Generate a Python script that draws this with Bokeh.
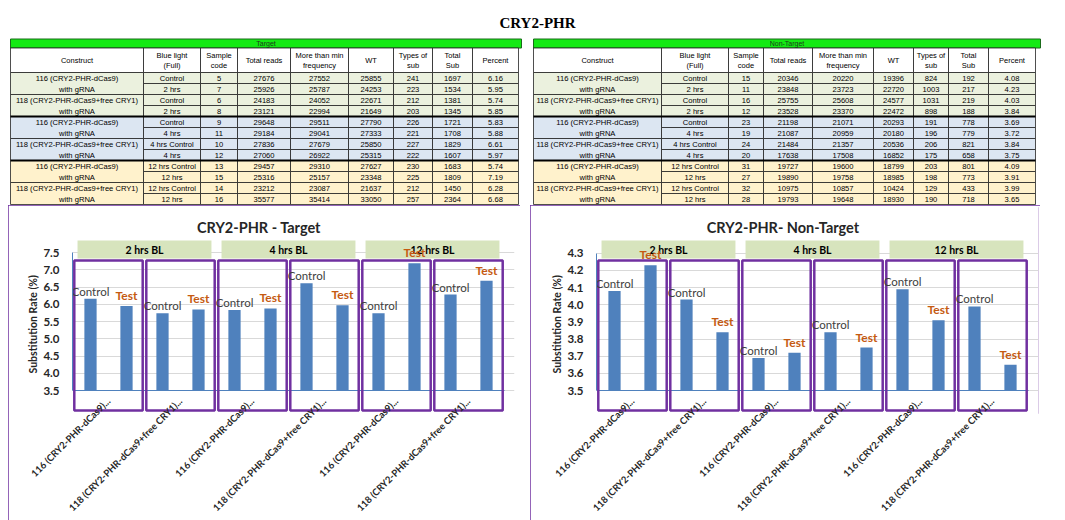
from bokeh.plotting import figure
from bokeh.models import Range1d, FixedTicker, Label, Spacer, PrintfTickFormatter, Title
from bokeh.layouts import column, row
from bokeh.embed import file_html
from bokeh.resources import INLINE
from bokeh.core.properties import value

# ---------------- data ----------------
page_title = "CRY2-PHR"
table_titles = ["Target", "Non-Target"]
header_line1 = ["Construct", "Blue light", "Sample", "Total reads", "More than min", "WT", "Types of", "Total", "Percent"]
header_line2 = ["", "(Full)", "code", "", "frequency", "", "sub", "Sub", ""]
construct_names = ["116 (CRY2-PHR-dCas9)", "118 (CRY2-PHR-dCas9+free CRY1)"] * 3
construct_suffix = "with gRNA"
blue_light = ["Control", "2 hrs", "Control", "2 hrs", "Control", "4 hrs",
              "4 hrs Control", "4 hrs", "12 hrs Control", "12 hrs", "12 hrs Control", "12 hrs"]

t_code = [5, 7, 6, 8, 9, 11, 10, 12, 13, 15, 14, 16]
t_total_reads = [27676, 25926, 24183, 23121, 29648, 29184, 27836, 27060, 29457, 25316, 23212, 35577]
t_more_min = [27552, 25787, 24052, 22994, 29511, 29041, 27679, 26922, 29310, 25157, 23087, 35414]
t_wt = [25855, 24253, 22671, 21649, 27790, 27333, 25850, 25315, 27627, 23348, 21637, 33050]
t_types = [241, 223, 212, 203, 226, 221, 227, 222, 230, 225, 212, 257]
t_total_sub = [1697, 1534, 1381, 1345, 1721, 1708, 1829, 1607, 1683, 1809, 1450, 2364]
t_percent = [6.16, 5.95, 5.74, 5.85, 5.83, 5.88, 6.61, 5.97, 5.74, 7.19, 6.28, 6.68]

n_code = [15, 11, 16, 12, 23, 19, 24, 20, 31, 27, 32, 28]
n_total_reads = [20346, 23848, 25755, 23528, 21198, 21087, 21484, 17638, 19727, 19890, 10975, 19793]
n_more_min = [20220, 23723, 25608, 23370, 21071, 20959, 21357, 17508, 19600, 19758, 10857, 19648]
n_wt = [19396, 22720, 24577, 22472, 20293, 20180, 20536, 16852, 18799, 18985, 10424, 18930]
n_types = [824, 1003, 1031, 898, 191, 196, 206, 175, 203, 198, 129, 190]
n_total_sub = [192, 217, 219, 188, 778, 779, 821, 658, 801, 773, 433, 718]
n_percent = [4.08, 4.23, 4.03, 3.84, 3.69, 3.72, 3.84, 3.75, 4.09, 3.91, 3.99, 3.65]

chart_titles = ["CRY2-PHR - Target", "CRY2-PHR- Non-Target"]
chart_categories = ["116 (CRY2-PHR-dCas9)...", "118 (CRY2-PHR-dCas9+free CRY1)..."] * 3
time_groups = ["2 hrs BL", "4 hrs BL", "12 hrs BL"]
bar_kinds = ["Control", "Test"]
y_axis_title = "Substitution Rate (%)"
target_yticks = [3.5, 4.0, 4.5, 5.0, 5.5, 6.0, 6.5, 7.0, 7.5]
nontarget_yticks = [3.5, 3.6, 3.7, 3.8, 3.9, 4.0, 4.1, 4.2, 4.3]

# ---------------- style ----------------
GREEN = "#14ea14"
ROW_FILLS = ["#ebf1de", "#dce6f2", "#fff2cc"]
BAR_BLUE = "#4f81bd"
PURPLE = "#7030a0"
BAND_FILL = "#d7e4bd"
TEST_COL = "#c55a11"
DARK = "#262626"
TFONT = value("Liberation Sans")
CFONT = value("Lato")

# table geometry (page pixels)
TOP_H = 205
T_BAND = (38.5, 47.5)
T_HEAD = (47.5, 72)
T_ROW0 = 72
T_ROWH = 11
tables_layout = [
    dict(edges=[10, 143, 200, 237, 290, 348, 393, 432, 472, 518], green_right=521),
    dict(edges=[533, 661, 728, 763, 812, 873, 913, 948, 988, 1035], green_right=1040),
]


def draw_table(p, geo, title, cols):
    e = geo["edges"]
    x0, x1 = e[0], e[-1]
    nrows = len(cols[0])
    p.quad(left=[x0], right=[geo["green_right"]], top=[T_BAND[0]], bottom=[T_BAND[1]],
           fill_color=GREEN, line_color="#1b6b1b", line_width=1)
    p.text(x=[(x0 + geo["green_right"]) / 2], y=[sum(T_BAND) / 2], text=[title],
           text_font=TFONT, text_font_size="7px", text_align="center",
           text_baseline="middle", text_color="#1d3b1d")
    p.quad(left=e[:-1], right=e[1:], top=[T_HEAD[0]] * 9, bottom=[T_HEAD[1]] * 9,
           fill_color="white", line_color="#222222", line_width=0.8)
    cx = [(e[c] + e[c + 1]) / 2 for c in range(9)]
    xs, ys, ts = [], [], []
    for c in range(9):
        if header_line2[c]:
            xs += [cx[c], cx[c]]
            ys += [T_HEAD[0] + 7, T_HEAD[0] + 17.5]
            ts += [header_line1[c], header_line2[c]]
        else:
            xs.append(cx[c]); ys.append(sum(T_HEAD) / 2); ts.append(header_line1[c])
    p.text(x=xs, y=ys, text=ts, text_font=TFONT, text_font_size="7.5px",
           text_align="center", text_baseline="middle", text_color="black")
    L, R, Tp, B, F = [], [], [], [], []
    for k in range(nrows // 2):
        L.append(e[0]); R.append(e[1])
        Tp.append(T_ROW0 + 2 * k * T_ROWH); B.append(T_ROW0 + (2 * k + 2) * T_ROWH)
        F.append(ROW_FILLS[(2 * k) // 4])
    for c in range(1, 9):
        for r in range(nrows):
            L.append(e[c]); R.append(e[c + 1])
            Tp.append(T_ROW0 + r * T_ROWH); B.append(T_ROW0 + (r + 1) * T_ROWH)
            F.append(ROW_FILLS[r // 4])
    p.quad(left=L, right=R, top=Tp, bottom=B, fill_color=F, line_color="#222222", line_width=0.8)
    gy = [T_ROW0 + 4 * g * T_ROWH for g in range(1, nrows // 4)]
    p.segment(x0=[x0] * len(gy), x1=[x1] * len(gy), y0=gy, y1=gy, line_color="black", line_width=2)
    xs, ys, ts = [], [], []
    for r in range(nrows):
        yc = T_ROW0 + (r + 0.5) * T_ROWH
        xs.append(cx[0]); ys.append(yc)
        ts.append(construct_names[r // 2] if r % 2 == 0 else construct_suffix)
        for c in range(1, 9):
            v = cols[c - 1][r]
            xs.append(cx[c]); ys.append(yc)
            ts.append(f"{v:.2f}" if isinstance(v, float) else str(v))
    p.text(x=xs, y=ys, text=ts, text_font=TFONT, text_font_size="7.6px",
           text_align="center", text_baseline="middle", text_color="black")


top = figure(width=1057, height=TOP_H, x_range=Range1d(0, 1057), y_range=Range1d(TOP_H, 0),
             x_axis_type=None, y_axis_type=None, output_backend="svg", toolbar_location=None,
             min_border=0)
top.outline_line_color = None
top.text(x=[537], y=[22], text=[page_title], text_font=value("Liberation Serif"),
         text_font_size="15px", text_font_style="bold", text_align="center",
         text_baseline="middle", text_color="black")
draw_table(top, tables_layout[0], table_titles[0],
           [blue_light, t_code, t_total_reads, t_more_min, t_wt, t_types, t_total_sub, t_percent])
draw_table(top, tables_layout[1], table_titles[1],
           [blue_light, n_code, n_total_reads, n_more_min, n_wt, n_types, n_total_sub, n_percent])

# chart geometry (figure-local pixels)
CH_H = 315
FRAME_TOP, FRAME_BOT = 2, 208
AXIS_PY = 185
FRAME_W = 442
CAT_PX = 72


def make_chart(title, controls, tests, yticks, ppu, left_border, right_border):
    base = yticks[0]

    def val(py):
        return base + (AXIS_PY - py) / ppu

    n = len(chart_categories)
    p = figure(width=left_border + FRAME_W + right_border, height=CH_H,
               x_range=Range1d(-0.5, -0.5 + FRAME_W / CAT_PX),
               y_range=Range1d(val(FRAME_BOT), val(FRAME_TOP)),
               output_backend="svg", toolbar_location=None,
               min_border_top=FRAME_TOP, min_border_bottom=CH_H - FRAME_BOT,
               min_border_left=left_border, min_border_right=right_border)
    p.outline_line_color = None
    p.styles = {"outline": f"2px solid {PURPLE}", "outline-offset": "-2px"}
    p.xgrid.grid_line_color = None
    p.ygrid.grid_line_color = "#d9d9d9"
    p.ygrid.ticker = FixedTicker(ticks=yticks)

    yax = p.yaxis[0]
    yax.ticker = FixedTicker(ticks=yticks)
    yax.formatter = PrintfTickFormatter(format="%.1f")
    yax.bounds = (yticks[0], yticks[-1])
    yax.axis_line_color = BAR_BLUE
    yax.major_tick_line_color = None
    yax.minor_tick_line_color = None
    yax.major_label_standoff = 7
    yax.major_label_text_font = "Lato"
    yax.major_label_text_font_style = "bold"
    yax.major_label_text_font_size = "11.5px"
    yax.major_label_text_color = DARK
    p.add_layout(Title(text=y_axis_title, align="left", offset=AXIS_PY - 168 + (FRAME_BOT - AXIS_PY),
                       text_font="Lato", text_font_size="10.5px", text_font_style="bold",
                       text_color=DARK, standoff=4), "left")

    xax = p.xaxis[0]
    xax.ticker = FixedTicker(ticks=list(range(n)))
    xax.major_label_overrides = {i: chart_categories[i] for i in range(n)}
    xax.major_label_orientation = 0.785
    xax.axis_line_color = None
    xax.major_tick_line_color = None
    xax.minor_tick_line_color = None
    xax.major_label_standoff = -20
    xax.major_label_text_font = "Lato"
    xax.major_label_text_font_style = "bold"
    xax.major_label_text_font_size = "9.5px"
    xax.major_label_text_color = DARK

    cx = list(range(n))
    xc = [i - 0.25 for i in cx]
    xt = [i + 0.25 for i in cx]
    p.vbar(x=xc, top=controls, bottom=base, width=0.17, fill_color=BAR_BLUE, line_color=None)
    p.vbar(x=xt, top=tests, bottom=base, width=0.17, fill_color=BAR_BLUE, line_color=None)
    p.segment(x0=[-0.5], x1=[n - 0.5], y0=[base], y1=[base], line_color=BAR_BLUE, line_width=1.2)

    gx = [2 * g + 0.5 for g in range(len(time_groups))]
    p.rect(x=gx, y=(val(35) + val(53)) / 2, width=1.86, height=val(35) - val(53),
           fill_color=BAND_FILL, line_color=None)
    p.text(x=gx, y=(val(35) + val(53)) / 2, text=time_groups, text_font=CFONT,
           text_font_size="10.5px", text_font_style="bold", text_align="center",
           text_baseline="middle", text_color="black")
    p.rect(x=cx, y=(val(55) + val(205)) / 2, width=0.95, height=val(55) - val(205),
           fill_color=None, line_color=PURPLE, line_width=2.5)
    p.text(x=xc, y=controls, text=[bar_kinds[0]] * n, text_font=CFONT, text_font_size="11.5px",
           text_align="center", text_baseline="bottom", y_offset=-1, text_color="#404040")
    p.text(x=xt, y=tests, text=[bar_kinds[1]] * n, text_font=CFONT, text_font_size="12px",
           text_font_style="bold", text_align="center", text_baseline="bottom", y_offset=-3,
           text_color=TEST_COL)
    p.add_layout(Label(x=2.09, y=val(22), text=title, text_font="Lato", text_font_size="14.5px",
                       text_font_style="bold", text_align="center", text_baseline="middle",
                       text_color=DARK))
    return p


c1 = make_chart(chart_titles[0], t_percent[0::2], t_percent[1::2], target_yticks, 34.5, 64, 6)
c2 = make_chart(chart_titles[1], n_percent[0::2], n_percent[1::2], nontarget_yticks, 171.6, 66, 2)

layout = column(top, row(Spacer(width=8, height=CH_H), c1, Spacer(width=10, height=CH_H), c2))
open("out.html", "w").write(file_html(layout, INLINE))
